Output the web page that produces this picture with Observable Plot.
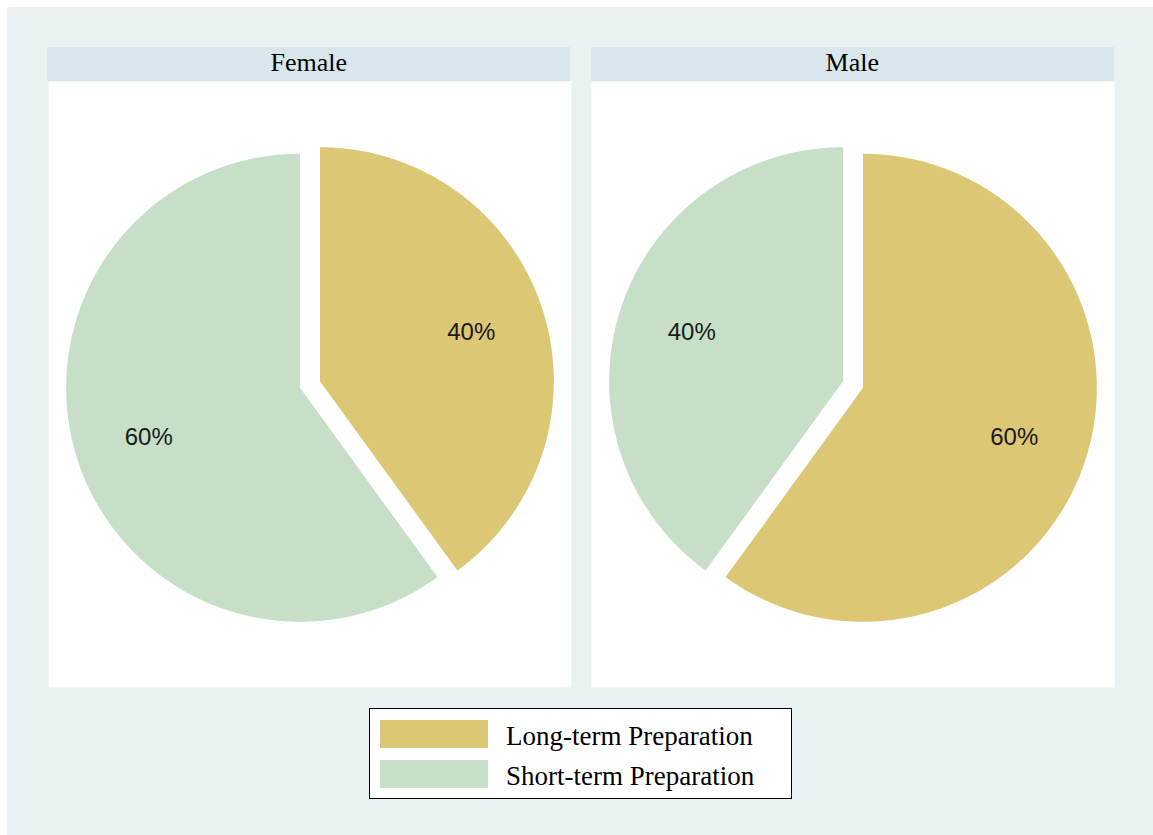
<!DOCTYPE html>
<html>
<head>
<meta charset="utf-8">
<script src="https://cdn.jsdelivr.net/npm/d3@7"></script>
<script src="https://cdn.jsdelivr.net/npm/@observablehq/plot@0.6"></script>
<style>
  html, body { margin: 0; padding: 0; background: #ffffff; }
  body { width: 1153px; height: 835px; position: relative; overflow: hidden; }
  #bg { position: absolute; left: 7px; top: 7px; width: 1146px; height: 828px; background: #EAF1F3; }
  .hdr { position: absolute; top: 47px; height: 34px; background: #D9E6EB;
         font-family: "Liberation Serif", "Times New Roman", serif; font-size: 26px;
         line-height: 31px; text-align: center; color: #000; }
  #chart { position: absolute; left: 47px; top: 81px; }
  #legend { position: absolute; left: 369px; top: 708px; width: 421px; height: 89px;
            border: 1.5px solid #000; background: #fff; }
  .sw { position: absolute; left: 10px; width: 108px; height: 28px; }
  .lt { position: absolute; left: 136px; font-family: "Liberation Serif", "Times New Roman", serif;
        font-size: 27px; line-height: 28px; color: #000; white-space: nowrap; }
</style>
</head>
<body>
<div id="bg"></div>
<div id="headers"></div>
<div id="chart"></div>
<div id="legend"></div>
<script>
// ---- data ----
const sexes = ["Female", "Male"];
const categories = ["Long-term Preparation", "Short-term Preparation"];
const shareFemale = [40, 60];
const shareMale = [60, 40];
const colors = ["#DCC774", "#C6DFC6"];

// ---- build slice polygons (angles clockwise from 12 o'clock) ----
const shares = {Female: shareFemale, Male: shareMale};
const explodeDist = 0.09, labelPos = 0.68;
const pts = [], lbls = [];
for (const sex of sexes) {
  const vals = shares[sex];
  const total = d3.sum(vals), minV = d3.min(vals);
  let start = 0;
  const sexPts = [], sexLbls = [];
  vals.forEach((v, i) => {
    const a0 = start / total * 2 * Math.PI, a1 = (start + v) / total * 2 * Math.PI;
    const mid = (a0 + a1) / 2;
    const e = v === minV ? explodeDist : 0;
    const cx = e * Math.sin(mid), cy = e * Math.cos(mid);
    const key = sex + i, category = categories[i];
    sexPts.push({sex, key, category, x: cx, y: cy});
    const n = Math.ceil((a1 - a0) / (Math.PI / 720));
    for (let k = 0; k <= n; k++) {
      const a = a0 + (a1 - a0) * k / n;
      sexPts.push({sex, key, category, x: cx + Math.sin(a), y: cy + Math.cos(a)});
    }
    sexPts.push({sex, key, category, x: cx, y: cy});
    sexLbls.push({sex, x: cx + labelPos * Math.sin(mid), y: cy + labelPos * Math.cos(mid), text: v + "%"});
    start += v;
  });
  const [x0, x1] = d3.extent(sexPts, d => d.x), [y0, y1] = d3.extent(sexPts, d => d.y);
  const mx = (x0 + x1) / 2, my = (y0 + y1) / 2;
  for (const p of sexPts) pts.push({...p, x: p.x - mx, y: p.y - my});
  for (const l of sexLbls) lbls.push({...l, x: l.x - mx, y: l.y - my});
}

// ---- plot ----
const W = 1067, H = 606, R = 234, padIn = 0.037;
const band = W / (2 - padIn) * (1 - padIn);
const hx = band / 2 / R, hy = H / 2 / R;
const chart = Plot.plot({
  width: W, height: H, margin: 0,
  x: {domain: [-hx, hx], axis: null},
  y: {domain: [-hy, hy], axis: null},
  fx: {domain: sexes, paddingInner: padIn, paddingOuter: 0, axis: null},
  color: {domain: categories, range: colors},
  style: {background: "transparent", overflow: "visible"},
  marks: [
    Plot.frame({fill: "white", stroke: "none"}),
    Plot.line(pts, {x: "x", y: "y", z: "key", fill: "category", stroke: "none", fx: "sex", curve: "linear"}),
    Plot.text(lbls, {x: "x", y: "y", text: "text", fx: "sex", fontSize: 24,
      fontFamily: "Liberation Sans, Arial, sans-serif", fill: "#1a1a1a"})
  ]
});
document.getElementById("chart").appendChild(chart);

// ---- facet headers (HTML) ----
const step = W / (2 - padIn);
const hdrs = document.getElementById("headers");
sexes.forEach((s, i) => {
  const d = document.createElement("div");
  d.className = "hdr";
  d.style.left = (47 + i * step) + "px";
  d.style.width = band + "px";
  d.textContent = s;
  hdrs.appendChild(d);
});

// ---- legend (HTML) ----
const leg = document.getElementById("legend");
categories.forEach((c, i) => {
  const sw = document.createElement("div");
  sw.className = "sw";
  sw.style.top = (11 + i * 40) + "px";
  sw.style.background = colors[i];
  leg.appendChild(sw);
  const t = document.createElement("div");
  t.className = "lt";
  t.style.top = (13 + i * 40) + "px";
  t.textContent = c;
  leg.appendChild(t);
});
</script>
</body>
</html>
